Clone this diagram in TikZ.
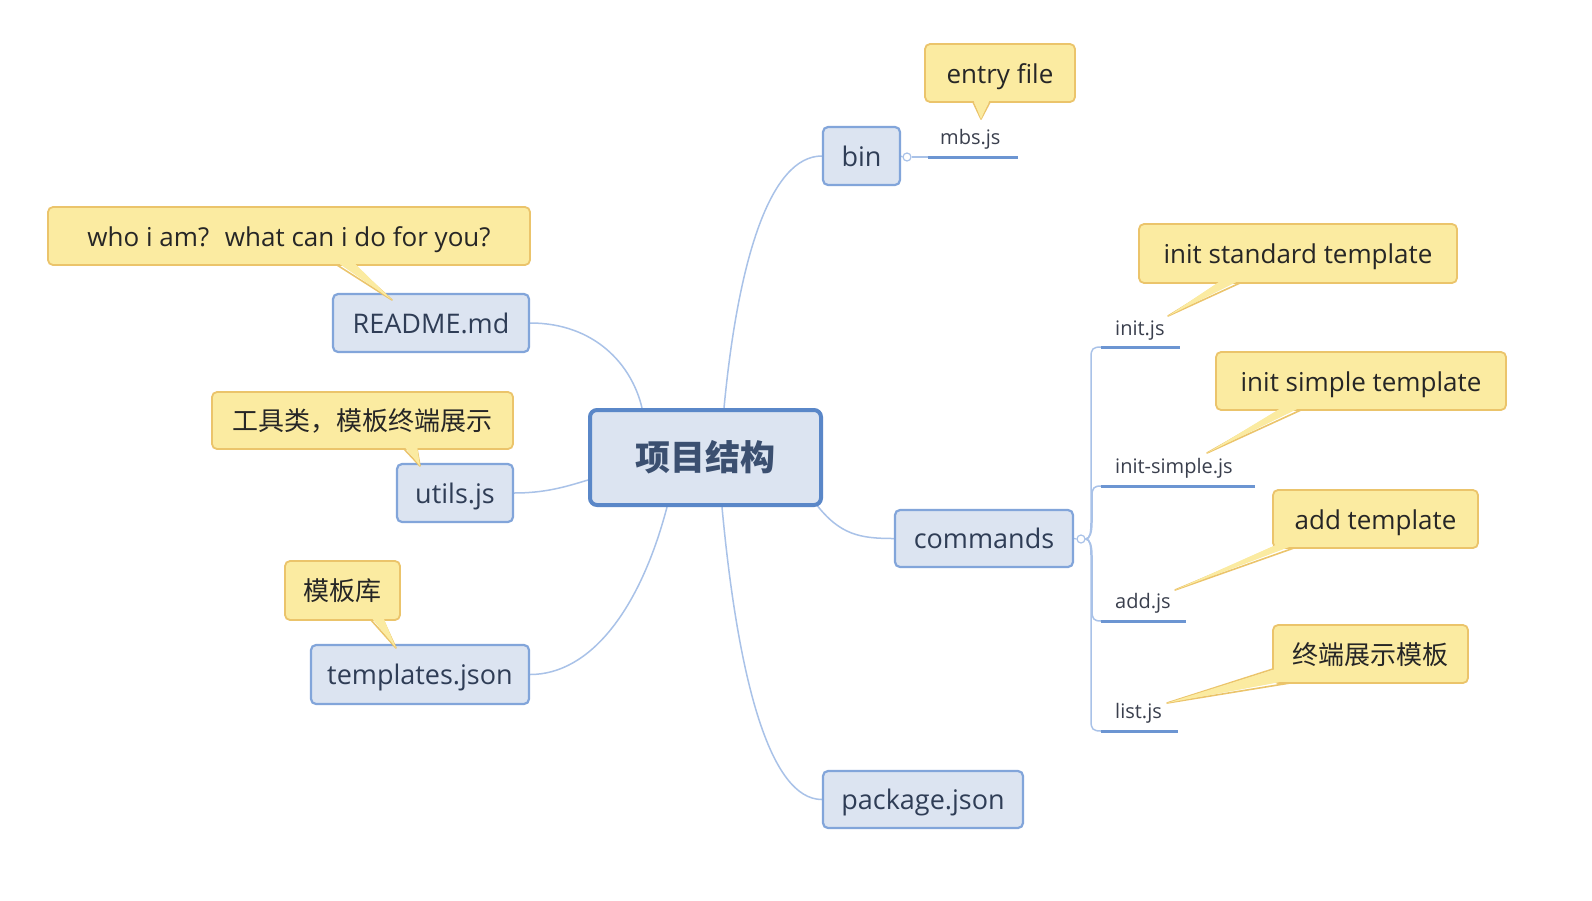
\documentclass[tikz,border=0pt]{standalone}
\usepackage{fontspec}
\setmainfont{Open Sans}
\newfontfamily\cjk{Noto Sans CJK SC}
\usetikzlibrary{backgrounds}
\definecolor{topicfill}{HTML}{DCE4F1}
\definecolor{topicborder}{HTML}{82A5DA}
\definecolor{rootborder}{HTML}{5A87C8}
\definecolor{topictext}{HTML}{2F3D56}
\definecolor{roottext}{HTML}{3B4F70}
\definecolor{linkc}{HTML}{A9C2E8}
\definecolor{ulc}{HTML}{6C95D2}
\definecolor{notefill}{HTML}{FBEBA1}
\definecolor{noteborder}{HTML}{EBC46B}
\definecolor{notetext}{HTML}{262626}
\definecolor{subtext}{HTML}{3A3F4D}
\tikzset{
  topic/.style={draw=topicborder, line width=2.2pt, fill=topicfill, rounded corners=5pt,
    text=topictext, font=\fontsize{27}{32}\selectfont, inner sep=0pt,
    text height=24pt, text depth=4pt},
  roottopic/.style={draw=rootborder, line width=4pt, fill=topicfill, rounded corners=7pt,
    text=roottext, font=\cjk\bfseries\fontsize{35}{40}\selectfont, inner sep=0pt,
    text height=30pt, text depth=4pt},
  note/.style={draw=noteborder, line width=1.8pt, fill=notefill, rounded corners=5pt,
    text=notetext, font=\fontsize{26}{30}\selectfont, inner sep=0pt,
    text height=24pt, text depth=4pt},
  notetailline/.style={draw=noteborder, line width=1.6pt, line join=round},
  link/.style={draw=linkc, line width=1.5pt},
  uline/.style={draw=ulc, line width=3pt},
  sub/.style={text=subtext, font=\fontsize{20}{24}\selectfont, inner sep=0pt, anchor=base west},
  knob/.style={circle, draw=linkc, fill=white, line width=1.2pt, inner sep=0pt, minimum size=8pt},
}
% tail: #1 edge point, #2 inner point, #3 tip, #4 inner point, #5 edge point
\newcommand\notetail[5]{%
  \fill[notefill] #2 -- #3 -- #4 -- cycle;
  \draw[notetailline] #1 -- #3 -- #5;
  \fill[notefill] #2 -- #3 -- #4 -- cycle;}
\begin{document}
\begin{tikzpicture}[x=1pt,y=-1pt]
\useasboundingbox (0,0) rectangle (1592,900);

% ---------- main topics ----------
\node[roottopic, minimum width=231pt, minimum height=95pt] (root) at (705.5,457.5) {项目结构};
\node[topic, minimum width=77pt, minimum height=58pt] (bin) at (861.5,156) {bin};
\node[topic, minimum width=178pt, minimum height=57pt] (cmds) at (984,538.5) {commands};
\node[topic, minimum width=200pt, minimum height=57pt] (pkg) at (923,799.5) {package.json};
\node[topic, minimum width=196pt, minimum height=58pt] (readme) at (431,323) {README.md};
\node[topic, minimum width=116pt, minimum height=58pt] (utils) at (455,493) {utils.js};
\node[topic, minimum width=218pt, minimum height=59pt] (tpl) at (420,674.5) {templates.json};

% ---------- knobs ----------
\node[knob] (binc) at (907,157) {};
\node[knob] (cmdc) at (1081,539) {};

% ---------- sub topics ----------
\node[sub] (mbs) at (940,144) {mbs.js};
\coordinate (mbsA) at (928,157);
\coordinate (mbsB) at (1018,157);

\node[sub] (initjs) at (1115,335) {init.js};
\coordinate (initA) at (1101,347);
\coordinate (initB) at (1180,347);
\node[sub] (simplejs) at (1115,473) {init-simple.js};
\coordinate (simpleA) at (1101,486);
\coordinate (simpleB) at (1255,486);
\node[sub] (addjs) at (1115,608) {add.js};
\coordinate (addA) at (1101,621);
\coordinate (addB) at (1186,621);
\node[sub] (listjs) at (1115,718) {list.js};
\coordinate (listA) at (1101,731);
\coordinate (listB) at (1178,731);

% ---------- callouts ----------
\node[note, minimum width=150pt, minimum height=58pt] (nEntry) at (1000,73) {entry file};
\notetail{(973,102)}{(973,99)}{(981,119)}{(990,99)}{(990,102)}
\node[note, minimum width=318pt, minimum height=59pt] (nStd) at (1298,253.5) {init standard template};
\notetail{(1222,283)}{(1222,280)}{(1168,316)}{(1240,280)}{(1240,283)}
\node[note, minimum width=290pt, minimum height=58pt] (nSimple) at (1361,381) {init simple template};
\notetail{(1283,410)}{(1283,407)}{(1207,453)}{(1301,407)}{(1301,410)}
\node[note, minimum width=205pt, minimum height=58pt] (nAdd) at (1375.5,519) {add template};
\notetail{(1276,548)}{(1276,545)}{(1175,590)}{(1294,545)}{(1294,548)}
\node[note, minimum width=195pt, minimum height=58pt, font=\cjk\fontsize{26}{30}\selectfont] (nTerm) at (1370.5,654) {终端展示模板};
\notetail{(1273,669)}{(1276,669)}{(1167,703)}{(1290,680)}{(1290,683)}
\node[note, minimum width=482pt, minimum height=58pt] (nWho) at (289,236) {who i am?~ what can i do for you?};
\notetail{(337,265)}{(337,262)}{(392,300)}{(353,262)}{(353,265)}
\node[note, minimum width=301pt, minimum height=57pt, font=\cjk\fontsize{26}{30}\selectfont] (nTools) at (362.5,420.5) {工具类，模板终端展示};
\notetail{(404,449)}{(404,446)}{(420,466)}{(417,446)}{(417,449)}
\node[note, minimum width=115pt, minimum height=59pt, font=\cjk\fontsize{26}{30}\selectfont] (nLib) at (342.5,590.5) {模板库};
\notetail{(371,620)}{(371,617)}{(396,648)}{(383,617)}{(383,620)}

% ---------- connectors ----------
\begin{scope}[on background layer]
\fill[white] (0,0) rectangle (1592,900);
\draw[link] ([xshift=-63.5pt]root.north) .. controls (632,365) and (595,323) .. (readme.east);
\draw[link] ([xshift=18.5pt]root.north) .. controls (738,260) and (770,156) .. (bin.west);
\draw[link] ([yshift=-22.5pt]root.west) .. controls (565,487) and (545,493) .. (utils.east);
\draw[link] ([xshift=-38.5pt]root.south) .. controls (640,610) and (590,674.5) .. (tpl.east);
\draw[link] ([xshift=16.5pt]root.south) .. controls (738,680) and (770,799.5) .. (pkg.west);
\draw[link] ([xshift=-7pt,yshift=3pt]root.south east) .. controls (840,535) and (860,538.5) .. (cmds.west);

\draw[link, line width=1.2pt] (bin.east) -- (binc.west);
\draw[link, line width=1.2pt] (binc.east) -- (mbsA);
\draw[link, line width=1.2pt] (cmds.east) -- (cmdc.west);

\draw[link] (cmdc.east) .. controls (1090,539) and (1091,532) .. (1091,522)
   -- (1091,357) .. controls (1091,349) and (1093,347) .. (initA);
\draw[link] (cmdc.east) .. controls (1090,539) and (1092,532) .. (1092,522)
   -- (1092,496) .. controls (1092,488) and (1094,486) .. (simpleA);
\draw[link] (cmdc.east) .. controls (1090,539) and (1092,546) .. (1092,556)
   -- (1092,611) .. controls (1092,619) and (1094,621) .. (addA);
\draw[link] (cmdc.east) .. controls (1090,539) and (1091,546) .. (1091,556)
   -- (1091,721) .. controls (1091,729) and (1093,731) .. (listA);
\end{scope}

\draw[uline] (mbsA) -- (mbsB);
\draw[uline] (initA) -- (initB);
\draw[uline] (simpleA) -- (simpleB);
\draw[uline] (addA) -- (addB);
\draw[uline] (listA) -- (listB);
\end{tikzpicture}
\end{document}
